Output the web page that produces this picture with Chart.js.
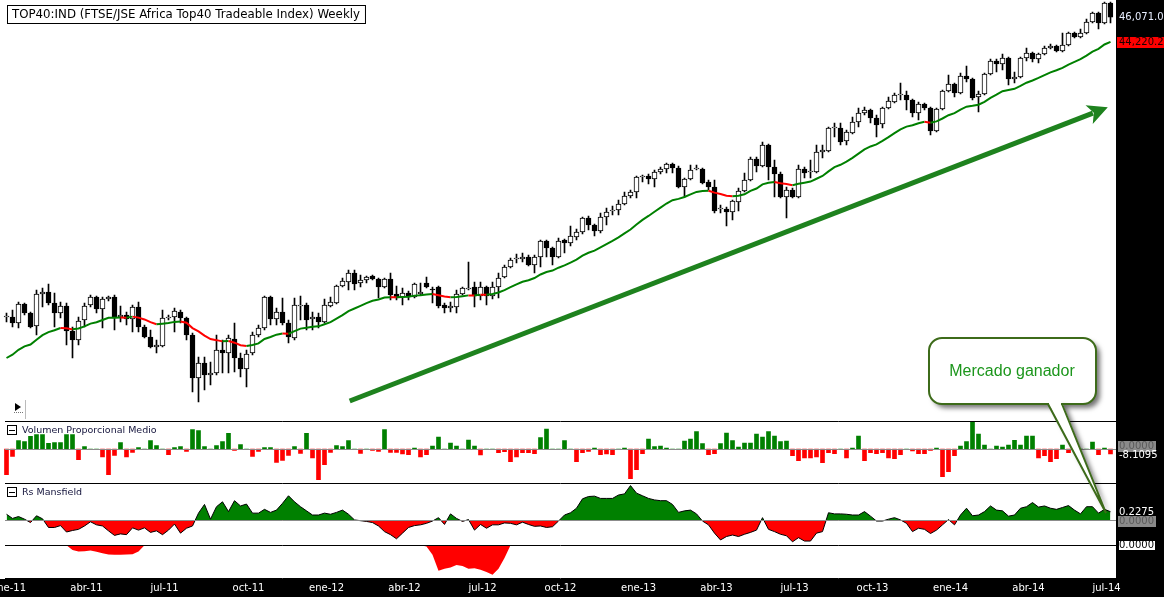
<!DOCTYPE html>
<html>
<head>
<meta charset="utf-8">
<script src="https://cdn.jsdelivr.net/npm/chart.js@4.4.1/dist/chart.umd.min.js"></script>
<style>
  html, body { margin: 0; padding: 0; background: #fff; overflow: hidden; }
  canvas { display: block; }
</style>
</head>
<body>
<canvas id="myChart" width="1164" height="597"></canvas>
<script>
// weekly candles, ene-11 .. jul-14
const openP = [
  28080, 28080, 27720, 28860, 28320, 27540, 29460, 29580, 28920, 28320,
  28740, 27240, 26700, 27900, 28800, 29280, 28560, 29160, 29280, 28080,
  28200, 27960, 28680, 27480, 26880, 26280, 26340, 28020, 28080, 28380,
  28020, 27000, 24420, 25320, 24600, 24720, 26100, 25920, 26760, 25620,
  24960, 25920, 27000, 27420, 29280, 27960, 28380, 27720, 26820, 28740,
  28800, 27960, 28080, 27780, 28740, 28920, 29940, 30180, 30720, 30120,
  30300, 30540, 30360, 29880, 30360, 29460, 29280, 29520, 29280, 29460,
  30120, 29760, 29880, 28800, 28620, 28680, 29460, 29760, 29880, 29340,
  29880, 29340, 29880, 30480, 31080, 31560, 31560, 31680, 31200, 31680,
  32640, 32220, 31680, 32700, 32520, 32880, 33180, 34020, 33600, 33240,
  34080, 34440, 34500, 34860, 35340, 35580, 36480, 36540, 36360, 36780,
  36960, 37260, 37020, 35880, 36360, 36960, 36960, 36180, 35880, 34560,
  34560, 34380, 34980, 35640, 36300, 37560, 37140, 38400, 37080, 36660,
  35280, 35700, 35280, 36960, 36780, 36780, 37980, 38040, 39420, 39420,
  38640, 39120, 39780, 40320, 40500, 40020, 39660, 40620, 40980, 41400,
  41400, 41100, 40320, 40860, 40620, 39240, 40560, 41640, 42060, 41520,
  42540, 42360, 41280, 41460, 42660, 43440, 43260, 43620, 42360, 42480,
  43620, 43920, 43560, 43860, 44220, 44340, 44040, 44400, 45120, 44880,
  45120, 45780, 46320, 45720, 46920
];
const highP = [
  28320, 28500, 28980, 28920, 28380, 29700, 29820, 30060, 29520, 28980,
  28920, 27480, 28080, 28920, 29400, 29340, 29280, 29340, 29400, 28740,
  28380, 28800, 28980, 27600, 27300, 26700, 28500, 28200, 28620, 28500,
  28080, 27120, 25680, 25680, 25380, 27000, 26700, 27000, 27720, 25920,
  26100, 27180, 27600, 29340, 29340, 28620, 29220, 27900, 29220, 29340,
  28920, 28380, 28320, 29160, 29280, 30000, 30420, 30900, 30900, 30600,
  30540, 30600, 30420, 30420, 30720, 29940, 29820, 29640, 30120, 30120,
  30480, 29880, 29940, 28920, 28980, 29700, 29880, 31380, 30180, 30180,
  29940, 30180, 30720, 31200, 31620, 31860, 31920, 31800, 31800, 32700,
  32700, 32280, 32820, 32760, 33540, 33360, 34080, 34140, 33660, 34320,
  34620, 34740, 35100, 35580, 35700, 36540, 36600, 36660, 36900, 37080,
  37320, 37320, 37140, 36420, 37200, 37200, 37020, 36300, 36300, 34800,
  34680, 35100, 35820, 36720, 37680, 37680, 38580, 38460, 37500, 36780,
  35880, 35820, 37200, 37080, 37500, 38400, 38400, 39480, 39720, 39720,
  39300, 40080, 40620, 40680, 40560, 40200, 40680, 41280, 41520, 42120,
  41640, 41160, 40980, 40920, 40680, 40620, 41700, 42600, 42120, 42720,
  43140, 42420, 41640, 42720, 43560, 43560, 43860, 43680, 42780, 43680,
  44220, 43980, 43920, 44340, 44460, 44400, 45120, 45180, 45180, 45360,
  45960, 46380, 46380, 46980, 46980
];
const lowP = [
  27780, 27480, 27420, 28200, 27420, 27000, 28680, 28800, 27480, 28020,
  26400, 25620, 26400, 27480, 28680, 28320, 27420, 29040, 27300, 27780,
  27600, 27180, 27180, 26820, 26220, 25920, 26280, 27900, 27180, 27720,
  26700, 23580, 22980, 23700, 24000, 24600, 24720, 24720, 24780, 24480,
  23880, 25800, 26880, 27300, 27600, 27600, 27600, 26520, 26700, 27900,
  27300, 27300, 27420, 27720, 28680, 28860, 29880, 29700, 29700, 29880,
  30120, 30300, 29220, 29820, 29100, 29100, 28800, 29100, 29220, 29400,
  29820, 28920, 28620, 28320, 28380, 28320, 29400, 29700, 28680, 29100,
  28800, 29160, 29220, 30420, 31020, 31320, 31380, 31140, 30720, 31080,
  31680, 31200, 31620, 31920, 32340, 32700, 33060, 33300, 32940, 33120,
  33600, 34200, 34200, 34800, 35220, 35220, 36180, 36060, 35880, 36660,
  36720, 36720, 35820, 35280, 36300, 36900, 36060, 35700, 34320, 34320,
  33540, 33900, 34440, 35580, 36240, 36780, 37080, 36300, 35280, 35220,
  34020, 35220, 35220, 36420, 36420, 36720, 37620, 37980, 38880, 38400,
  38400, 39060, 39480, 40200, 39720, 38880, 39420, 40560, 40920, 41100,
  40500, 40080, 39900, 40500, 39000, 39180, 40500, 41580, 41280, 41460,
  42180, 41100, 40380, 41400, 42600, 42780, 42900, 42000, 42120, 42420,
  43440, 43380, 43320, 43800, 44160, 43980, 43980, 44340, 44820, 44820,
  45060, 45720, 45360, 45660, 45720
];
const closeP = [
  28140, 27720, 28860, 28320, 27480, 29460, 29580, 28920, 28320, 28740,
  27240, 26700, 27840, 28740, 29280, 28560, 29160, 29280, 28080, 28200,
  27960, 28680, 27480, 26880, 26280, 26400, 28020, 28080, 28440, 28020,
  27000, 24420, 25320, 24600, 24720, 26100, 25920, 26820, 25620, 24960,
  25860, 27000, 27420, 29280, 27960, 28380, 27720, 26880, 28800, 28800,
  27900, 28080, 27780, 28800, 28980, 29940, 30240, 30720, 30060, 30300,
  30480, 30360, 29880, 30360, 29400, 29220, 29520, 29340, 30060, 29580,
  29880, 29700, 28740, 28620, 28740, 29460, 29820, 29820, 29340, 29880,
  29340, 29880, 30420, 31080, 31500, 31620, 31680, 31200, 31680, 32640,
  32220, 31680, 32640, 32520, 32940, 33180, 34020, 33600, 33240, 34080,
  34380, 34500, 34860, 35340, 35580, 36480, 36540, 36360, 36780, 36960,
  37260, 37020, 35880, 36360, 36900, 37020, 36120, 35880, 34440, 34620,
  34380, 35040, 35640, 36300, 37560, 37140, 38400, 37080, 36660, 35280,
  35700, 35280, 36960, 36720, 36840, 37980, 38100, 39420, 39480, 38580,
  39180, 39780, 40320, 40500, 40020, 39600, 40620, 41040, 41400, 41460,
  41100, 40320, 40860, 40620, 39240, 40560, 41640, 42060, 41520, 42540,
  42360, 41220, 41460, 42660, 43440, 43260, 43620, 42360, 42480, 43620,
  43920, 43560, 43860, 44220, 44340, 44040, 44400, 45120, 44880, 45120,
  45780, 46320, 45720, 46920, 46071.09
];
// moving average value at the first week
const maSeed = 25620;
const maPeriod = 20;
// Volumen Proporcional Medio
const volumen = [
  -41.6, -11.9, 13.5, 11.9, 20.5, 23.2, 23.2, 9.2, 10.3, 10.3,
  23.2, 23.2, -17.3, 3.8, 0, 0, -13.0, -41.6, -10.3, 10.3,
  -13.0, -5.4, 2.2, 0, 13.5, 5.4, 0, -9.2, 2.2, 3.8,
  -3.8, 31.3, 29.7, 3.8, 0, 5.4, 11.9, 25.4, -2.2, 7.0,
  0, -11.9, -3.8, 2.2, 2.2, -21.6, -18.4, -10.3, 3.8, -7.0,
  25.4, -14.6, -49.7, -25.4, -5.4, 5.4, 3.8, 13.5, 0, -7.0,
  0, -2.2, -3.8, 31.3, -5.4, -5.4, -8.1, -9.2, 1.6, -13.0,
  -9.2, 4.9, 19.4, 0, 9.7, 4.9, 0, 14.6, 4.9, -9.7,
  0, 0, -5.9, -4.3, -20.5, -13.0, -5.9, -5.9, -7.6, 18.4,
  32.4, 0, 0, 13.5, 0, -20.5, -5.9, -3.8, 1.6, -9.2,
  -8.1, -9.2, 0, 1.6, -48.1, -33.5, -7.6, 16.2, 3.8, 4.9,
  1.6, 0, 0, 13.0, 16.2, 28.1, 8.6, -9.2, -7.6, 8.6,
  25.9, 13.5, 3.2, 9.7, 9.7, 24.3, 19.4, 28.1, 21.1, 11.9,
  13.0, -10.8, -18.9, -14.6, -14.6, -13.0, -22.1, -5.9, -7.6, 0,
  -14.6, 1.6, 21.1, -18.9, -5.9, -7.6, -5.9, -14.6, -15.7, -9.2,
  0, -3.2, -7.6, -7.6, -2.2, 1.6, -44.8, -36.7, -10.8, 4.9,
  11.9, 43.2, 24.3, 6.5, 0, 4.9, 3.2, 6.5, 14.0, 6.5,
  21.1, 21.1, -14.6, -10.8, -20.5, -15.7, 6.5, -5.9, 0, 0,
  0, 11.3, -9.2, 1.6, -8.1095
];
// Rs Mansfield
const rsMansfield = [
  0.16, 0.05, 0.10, 0.03, -0.06, 0.12, 0.04, -0.19, -0.19, -0.14,
  -0.31, -0.27, -0.24, -0.15, -0.04, -0.12, -0.15, -0.28, -0.40, -0.36,
  -0.38, -0.20, -0.26, -0.20, -0.32, -0.28, -0.38, -0.26, -0.10, -0.34,
  -0.21, -0.15, 0.19, 0.42, 0.03, 0.36, 0.49, 0.23, 0.52, 0.38,
  0.43, 0.19, 0.19, 0.29, 0.21, 0.27, 0.45, 0.65, 0.49, 0.36,
  0.25, 0.14, 0.14, 0.19, 0.16, 0.21, 0.27, 0.16, 0.01, -0.01,
  -0.03, -0.06, -0.15, -0.30, -0.38, -0.49, -0.34, -0.19, -0.14, -0.12,
  -0.08, -0.02, 0.07, -0.11, 0.17, 0.05, -0.03, 0.02, -0.26, -0.11,
  -0.21, -0.12, -0.12, -0.07, -0.08, -0.12, -0.05, -0.11, -0.16, -0.15,
  -0.19, -0.17, -0.02, 0.14, 0.20, 0.32, 0.57, 0.63, 0.64, 0.58,
  0.58, 0.58, 0.67, 0.70, 0.92, 0.72, 0.65, 0.58, 0.54, 0.52,
  0.52, 0.42, 0.21, 0.25, 0.27, 0.17, -0.02, -0.12, -0.34, -0.52,
  -0.43, -0.39, -0.43, -0.37, -0.32, -0.26, 0.07, -0.24, -0.30, -0.37,
  -0.41, -0.57, -0.46, -0.55, -0.55, -0.34, -0.30, 0.20, 0.17, 0.17,
  0.16, 0.14, 0.14, 0.23, 0.11, -0.02, -0.02, 0.03, 0.07, 0.01,
  -0.08, -0.30, -0.21, -0.24, -0.35, -0.26, -0.12, 0.02, -0.12, 0.14,
  0.32, 0.12, 0.14, 0.23, 0.38, 0.27, 0.25, 0.11, 0.14, 0.32,
  0.36, 0.47, 0.35, 0.38, 0.32, 0.29, 0.34, 0.39, 0.27, 0.17,
  0.36, 0.36, 0.19, 0.29, 0.2275
];
// lower Rs panel (only below zero)
const rsBajo = [
  0, 0, 0, 0, 0, 0, 0, 0, 0, 0,
  0, -0.14, -0.19, -0.18, -0.16, -0.20, -0.24, -0.28, -0.29, -0.29,
  -0.28, -0.27, -0.19, 0, 0, 0, 0, 0, 0, 0,
  0, 0, 0, 0, 0, 0, 0, 0, 0, 0,
  0, 0, 0, 0, 0, 0, 0, 0, 0, 0,
  0, 0, 0, 0, 0, 0, 0, 0, 0, 0,
  0, 0, 0, 0, 0, 0, 0, 0, 0, 0,
  -0.04, -0.29, -0.78, -0.72, -0.68, -0.60, -0.63, -0.72, -0.70, -0.75,
  -0.82, -0.90, -0.72, -0.39, 0, 0, 0, 0, 0, 0,
  0, 0, 0, 0, 0, 0, 0, 0, 0, 0,
  0, 0, 0, 0, 0, 0, 0, 0, 0, 0,
  0, 0, 0, 0, 0, 0, 0, 0, 0, 0,
  0, 0, 0, 0, 0, 0, 0, 0, 0, 0,
  0, 0, 0, 0, 0, 0, 0, 0, 0, 0,
  0, 0, 0, 0, 0, 0, 0, 0, 0, 0,
  0, 0, 0, 0, 0, 0, 0, 0, 0, 0,
  0, 0, 0, 0, 0, 0, 0, 0, 0, 0,
  0, 0, 0, 0, 0, 0, 0, 0, 0, 0,
  0, 0, 0, 0, 0
];
const tickLabels = ['ene-11', 'abr-11', 'jul-11', 'oct-11', 'ene-12', 'abr-12', 'jul-12', 'oct-12',
  'ene-13', 'abr-13', 'jul-13', 'oct-13', 'ene-14', 'abr-14', 'jul-14'];
const tickWeeks = [0, 13, 26, 40, 53, 66, 79, 92, 105, 118, 131, 144, 157, 170, 183];
const axisTags = { close: '46,071.09', ma: '44,220.22', vol: '-8.1095', rs: '0.2275', zero: '0.0000' };
const title = 'TOP40:IND (FTSE/JSE Africa Top40 Tradeable Index) Weekly';
const arrowFrom = { x: 57.2, y: 23040 };
const arrowTo = { x: 183.55, y: 40660 };

const weeks = closeP.map((c, i) => i);
// exponential moving average of the closes
const ma = [];
closeP.forEach((c, i) => {
  if (i === 0) { ma.push(maSeed); return; }
  const k = 2 / (maPeriod + 1);
  ma.push(ma[i - 1] + k * (c - ma[i - 1]));
});
const wicks = lowP.map((l, i) => [l, highP[i]]);
const bodies = openP.map((o, i) => [o, closeP[i]]);
const bodyColors = openP.map((o, i) => closeP[i] >= o ? '#ffffff' : '#000000');

const GREEN = '#008000';
const RED = '#ff0000';
const FONT = '"DejaVu Sans", sans-serif';

function roundRect(ctx, x, y, w, h, r) {
  ctx.beginPath();
  ctx.moveTo(x + r, y);
  ctx.arcTo(x + w, y, x + w, y + h, r);
  ctx.arcTo(x + w, y + h, x, y + h, r);
  ctx.arcTo(x, y + h, x, y, r);
  ctx.arcTo(x, y, x + w, y, r);
  ctx.closePath();
}

function tag(ctx, text, y, bg, fg, border) {
  ctx.font = '10px ' + FONT;
  ctx.textBaseline = 'middle';
  ctx.textAlign = 'left';
  if (bg) {
    ctx.fillStyle = bg;
    ctx.fillRect(1118, Math.round(y) - 5, 38, 11);
    if (border) {
      ctx.strokeStyle = border;
      ctx.lineWidth = 1;
      ctx.strokeRect(1118.5, Math.round(y) - 4.5, 37, 10);
    }
  }
  ctx.fillStyle = fg;
  ctx.fillText(text, 1119, y + 0.5);
}

const decor = {
  id: 'decor',
  beforeDraw(chart) {
    const ctx = chart.ctx;
    ctx.save();
    ctx.fillStyle = '#ffffff';
    ctx.fillRect(0, 0, chart.width, chart.height);
    ctx.restore();
  },
  afterDatasetsDraw(chart) {
    const ctx = chart.ctx;
    const xs = chart.scales.x, ys = chart.scales.y;
    const yv = chart.scales.yVol, yr = chart.scales.yRs, yb = chart.scales.yBot;
    ctx.save();

    // zero lines
    ctx.strokeStyle = '#8c8c8c';
    ctx.lineWidth = 1;
    [yv.getPixelForValue(0), yr.getPixelForValue(0)].forEach(p => {
      ctx.beginPath();
      ctx.moveTo(5, Math.round(p) + 0.5);
      ctx.lineTo(1116, Math.round(p) + 0.5);
      ctx.stroke();
    });

    // panel separators
    ctx.strokeStyle = '#000000';
    [421, 483, 545, 578].forEach(p => {
      ctx.beginPath();
      ctx.moveTo(5, p + 0.5);
      ctx.lineTo(1116, p + 0.5);
      ctx.stroke();
    });

    // trend arrow
    const x0 = xs.getPixelForValue(arrowFrom.x), y0 = ys.getPixelForValue(arrowFrom.y);
    const x1 = xs.getPixelForValue(arrowTo.x), y1 = ys.getPixelForValue(arrowTo.y);
    const ang = Math.atan2(y1 - y0, x1 - x0);
    const c = Math.cos(ang), s = Math.sin(ang);
    const bx = x1 - 20 * c, by = y1 - 20 * s;
    ctx.strokeStyle = '#1e821e';
    ctx.fillStyle = '#1e821e';
    ctx.lineWidth = 5;
    ctx.beginPath();
    ctx.moveTo(x0, y0);
    ctx.lineTo(bx + 4 * c, by + 4 * s);
    ctx.stroke();
    ctx.beginPath();
    ctx.moveTo(x1, y1);
    ctx.lineTo(bx - 10 * s, by + 10 * c);
    ctx.lineTo(bx + 5 * c, by + 5 * s);
    ctx.lineTo(bx + 10 * s, by - 10 * c);
    ctx.closePath();
    ctx.fill();

    // title box
    ctx.font = '11.8px ' + FONT;
    ctx.textBaseline = 'middle';
    ctx.textAlign = 'left';
    const tw = ctx.measureText(title).width;
    ctx.fillStyle = '#ffffff';
    ctx.fillRect(7, 5, tw + 10, 18);
    ctx.strokeStyle = '#000000';
    ctx.lineWidth = 1;
    ctx.strokeRect(7.5, 5.5, tw + 10, 18);
    ctx.fillStyle = '#000000';
    ctx.fillText(title, 12, 15);

    // small play icon
    ctx.fillStyle = '#000000';
    ctx.beginPath();
    ctx.moveTo(15, 403);
    ctx.lineTo(21, 407);
    ctx.lineTo(15, 411);
    ctx.closePath();
    ctx.fill();
    ctx.fillStyle = '#777777';
    for (let dx = 14; dx < 23; dx += 2) ctx.fillRect(dx, 412, 1, 1);
    ctx.fillStyle = '#bbbbbb';
    ctx.fillRect(25, 400, 1, 19);

    // panel captions
    [['Volumen Proporcional Medio', 425], ['Rs Mansfield', 487]].forEach(([txt, top]) => {
      ctx.fillStyle = '#ffffff';
      ctx.fillRect(7, top, 10, 10);
      ctx.strokeStyle = '#000000';
      ctx.strokeRect(7.5, top + 0.5, 9, 9);
      ctx.fillStyle = '#000000';
      ctx.fillRect(9, top + 5, 6, 1);
      ctx.font = '9.5px ' + FONT;
      ctx.fillStyle = '#14143c';
      ctx.fillText(txt, 22, top + 5.5);
    });

    // right value strip
    ctx.fillStyle = '#000000';
    ctx.fillRect(1116, 0, 48, chart.height);
    // bottom date strip
    ctx.fillRect(0, 579, chart.width, chart.height - 579);

    const last = closeP.length - 1;
    tag(ctx, axisTags.close, ys.getPixelForValue(closeP[last]), null, '#e8eeff');
    ctx.fillStyle = RED;
    ctx.fillRect(1117, Math.round(ys.getPixelForValue(ma[last])) - 5, 47, 11);
    tag(ctx, axisTags.ma, ys.getPixelForValue(ma[last]), null, '#1a0000');
    tag(ctx, axisTags.zero, yv.getPixelForValue(0) - 3, '#8a8a8a', '#5a5a5a');
    tag(ctx, axisTags.vol, yv.getPixelForValue(volumen[last]) + 1, null, '#ffffff');
    tag(ctx, axisTags.rs, yr.getPixelForValue(rsMansfield[last]), null, '#ffffff');
    tag(ctx, axisTags.zero, yr.getPixelForValue(0) + 1, '#8a8a8a', '#5a5a5a');
    tag(ctx, axisTags.zero, yb.getPixelForValue(0), '#ffffff', '#000000', '#000000');

    // date labels
    ctx.font = '10px ' + FONT;
    ctx.fillStyle = '#ffffff';
    ctx.textAlign = 'center';
    ctx.textBaseline = 'middle';
    tickWeeks.forEach((w, i) => {
      ctx.fillText(tickLabels[i], xs.getPixelForValue(w) + 2, 588);
    });

    // callout "Mercado ganador"
    const tipX = 1106, tipY = 513;
    ctx.shadowColor = 'rgba(0,0,0,0.55)';
    ctx.shadowBlur = 5;
    ctx.shadowOffsetX = 4;
    ctx.shadowOffsetY = 4;
    ctx.fillStyle = '#ffffff';
    roundRect(ctx, 929, 338, 167, 66, 13);
    ctx.fill();
    ctx.beginPath();
    ctx.moveTo(1048, 402);
    ctx.lineTo(tipX, tipY);
    ctx.lineTo(1062, 402);
    ctx.closePath();
    ctx.fill();
    ctx.shadowColor = 'transparent';
    ctx.shadowBlur = 0;
    ctx.shadowOffsetX = 0;
    ctx.shadowOffsetY = 0;
    ctx.strokeStyle = '#3d6b1a';
    ctx.lineWidth = 2;
    roundRect(ctx, 929, 338, 167, 66, 13);
    ctx.stroke();
    ctx.fillStyle = '#ffffff';
    ctx.fillRect(1049, 400, 12, 8);
    ctx.beginPath();
    ctx.moveTo(1048, 404);
    ctx.lineTo(tipX, tipY);
    ctx.lineTo(1062, 404);
    ctx.stroke();
    ctx.font = '16px "Liberation Sans", Arial, sans-serif';
    ctx.fillStyle = '#1c961c';
    ctx.textAlign = 'center';
    ctx.textBaseline = 'middle';
    ctx.fillText('Mercado ganador', 1012, 372);

    ctx.restore();
  }
};

const ctx = document.getElementById('myChart').getContext('2d');
const myChart = new Chart(ctx, {
  type: 'bar',
  data: {
    labels: weeks,
    datasets: [
      {
        type: 'line',
        label: 'MA',
        data: ma,
        yAxisID: 'y',
        borderWidth: 2,
        pointRadius: 0,
        tension: 0,
        order: 0,
        segment: {
          borderColor: (c) => c.p1.parsed.y < c.p0.parsed.y ? RED : GREEN
        }
      },
      {
        label: 'bodies',
        data: bodies,
        yAxisID: 'y',
        backgroundColor: bodyColors,
        borderColor: '#000000',
        borderWidth: 1,
        borderSkipped: false,
        barThickness: 5,
        grouped: false,
        order: 1
      },
      {
        label: 'wicks',
        data: wicks,
        yAxisID: 'y',
        backgroundColor: '#000000',
        borderWidth: 0,
        barThickness: 1,
        grouped: false,
        order: 2
      },
      {
        label: 'Volumen',
        data: volumen,
        yAxisID: 'yVol',
        backgroundColor: volumen.map(v => v >= 0 ? GREEN : RED),
        borderWidth: 0,
        barThickness: 4,
        grouped: false,
        order: 3
      },
      {
        type: 'line',
        label: 'Rs Mansfield',
        data: rsMansfield,
        yAxisID: 'yRs',
        borderColor: '#000000',
        borderWidth: 1,
        pointRadius: 0,
        tension: 0,
        fill: { target: 'origin', above: GREEN, below: RED },
        order: 4
      },
      {
        type: 'line',
        label: 'Rs bajo',
        data: rsBajo,
        yAxisID: 'yBot',
        borderWidth: 0,
        borderColor: 'rgba(0,0,0,0)',
        pointRadius: 0,
        tension: 0,
        fill: { target: 'origin', above: 'rgba(0,0,0,0)', below: RED },
        order: 5
      }
    ]
  },
  options: {
    responsive: false,
    animation: false,
    events: [],
    layout: { padding: { left: 3.5, right: 50.5, top: 0, bottom: 19 } },
    plugins: { legend: { display: false }, tooltip: { enabled: false } },
    scales: {
      x: { display: false, offset: true, grid: { display: false } },
      y: { display: false, min: 12420, max: 47100 },
      yVol: { display: false, min: -208.98, max: 727.38 },
      yRs: { display: false, min: -1.529, max: 13.788 },
      yBot: { display: false, min: -1, max: 16.676 }
    }
  },
  plugins: [decor]
});
</script>
</body>
</html>
